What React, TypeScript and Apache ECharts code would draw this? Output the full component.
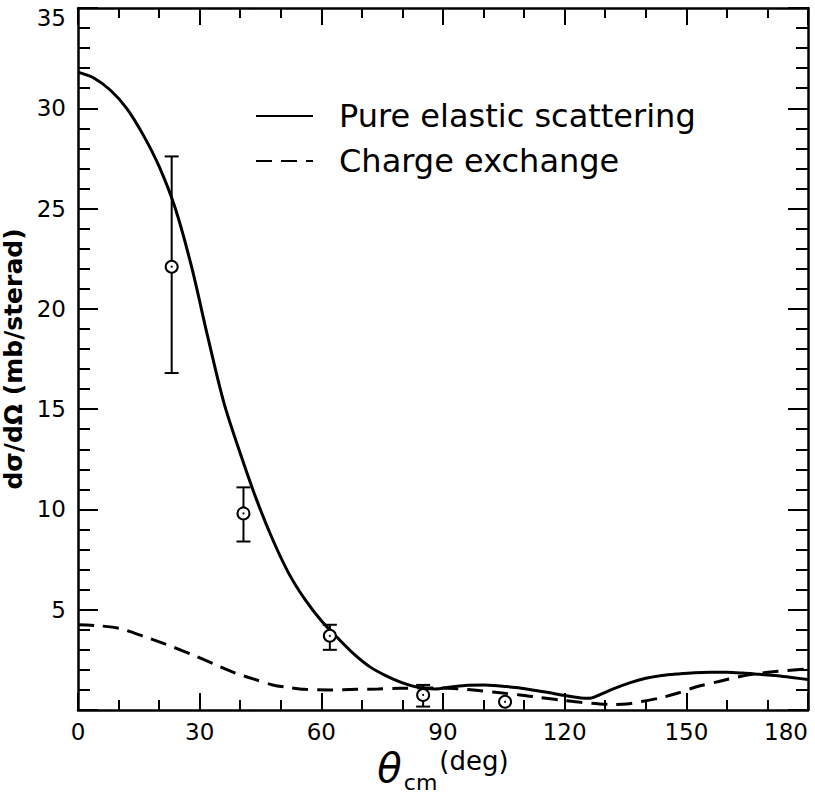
import React, { useEffect, useRef } from "react";
import * as echarts from "echarts";

// Pure elastic scattering (solid curve)
const elasticAngles = [0, 4, 8, 12, 16, 20, 24, 28, 32, 36, 40, 44, 48, 52, 56, 60, 64, 68, 72, 76, 80, 84, 88, 92, 96, 100, 104, 108, 112, 116, 120, 124, 126, 128, 132, 136, 140, 144, 148, 152, 156, 160, 164, 168, 172, 176, 180];
const elasticValues = [31.8, 31.5, 30.9, 30.0, 28.7, 27.1, 25.0, 22.1, 18.6, 15.3, 12.8, 10.5, 8.5, 6.8, 5.5, 4.45, 3.6, 2.8, 2.15, 1.7, 1.35, 1.12, 1.05, 1.15, 1.24, 1.25, 1.2, 1.12, 1.0, 0.87, 0.72, 0.6, 0.58, 0.7, 1.05, 1.35, 1.58, 1.72, 1.8, 1.86, 1.88, 1.88, 1.84, 1.78, 1.72, 1.62, 1.52];

// Charge exchange (dashed curve)
const exchangeAngles = [0, 5, 10, 16.5, 22, 28.4, 34, 39, 44, 48, 52, 56, 62, 68.7, 74, 79.4, 85, 90, 94, 97.5, 103, 109, 114, 119, 124, 128.7, 132, 135.3, 139, 143.5, 148, 152.5, 158, 163, 167, 171.4, 175, 180];
const exchangeValues = [4.25, 4.2, 4.08, 3.65, 3.25, 2.74, 2.25, 1.83, 1.5, 1.25, 1.12, 1.03, 1.0, 1.03, 1.05, 1.08, 1.1, 1.1, 1.05, 1.0, 0.88, 0.75, 0.62, 0.5, 0.38, 0.3, 0.28, 0.3, 0.42, 0.6, 0.85, 1.16, 1.42, 1.66, 1.8, 1.91, 1.97, 2.05];

// Measured points with error bars
const pointAngles = [23.1, 40.8, 62.1, 85.1, 105.3];
const pointValues = [22.1, 9.8, 3.7, 0.75, 0.41];
const errLow = [16.8, 8.4, 3.0, 0.17, 0.41];
const errHigh = [27.6, 11.1, 4.25, 1.25, 0.41];

const xTicks = [0, 30, 60, 90, 120, 150, 180];
const yTicks = [0, 5, 10, 15, 20, 25, 30, 35];

const FONT = "DejaVu Sans";

export default function App() {
  const ref = useRef<HTMLDivElement>(null);
  useEffect(() => {
    if (!ref.current) return;
    const chart = echarts.init(ref.current, null, { renderer: "svg" });
    const black = "#000";
    const yMax = yTicks[yTicks.length - 1];
    const baseX = {
      type: "value",
      min: xTicks[0],
      max: xTicks[xTicks.length - 1],
      interval: 30,
      splitLine: { show: false },
      axisLine: { show: true, onZero: false, lineStyle: { color: black, width: 2.5 } },
      axisTick: { show: true, inside: true, length: 17, lineStyle: { color: black, width: 2 } },
      minorTick: { show: true, splitNumber: 3, length: 10, lineStyle: { color: black, width: 2 } },
    };
    const baseY = {
      type: "value",
      min: yTicks[0],
      max: yMax,
      interval: 5,
      splitLine: { show: false },
      axisLine: { show: true, onZero: false, lineStyle: { color: black, width: 2.5 } },
      axisTick: { show: true, inside: true, length: 20, lineStyle: { color: black, width: 2 } },
      minorTick: { show: true, splitNumber: 5, length: 12, lineStyle: { color: black, width: 2 } },
    };
    const option: any = {
      animation: false,
      backgroundColor: "#fff",
      grid: { left: 78, right: 7, top: 8, bottom: 86, containLabel: false, outerBoundsMode: "none" },
      legend: {
        data: ["Pure elastic scattering", "Charge exchange"],
        orient: "vertical",
        left: 255,
        top: 100,
        padding: 0,
        itemWidth: 57,
        itemHeight: 14,
        itemGap: 13,
        selectedMode: false,
        itemStyle: { opacity: 0, borderWidth: 0 },
        textStyle: { fontSize: 32, fontFamily: FONT, color: black, padding: [0, 0, 0, 21] },
      },
      xAxis: [
        {
          ...baseX,
          position: "bottom",
          name: "{t|θ}{s|cm}{d|(deg)}",
          nameLocation: "middle",
          nameGap: 26,
          nameTextStyle: {
            color: black,
            rich: {
              t: { fontSize: 40, fontStyle: "italic", fontFamily: FONT, color: black, lineHeight: 46, verticalAlign: "top" },
              s: { fontSize: 22, fontFamily: FONT, color: black, lineHeight: 14, verticalAlign: "bottom", padding: [0, 2, 0, 2] },
              d: { fontSize: 26, fontFamily: FONT, color: black, lineHeight: 46, verticalAlign: "top" },
            },
          },
          axisLabel: { fontSize: 23, fontFamily: FONT, color: black, margin: 10, alignMaxLabel: "right" },
        },
        {
          ...baseX,
          position: "top",
          axisLabel: { show: false },
        },
      ],
      yAxis: [
        {
          ...baseY,
          position: "left",
          name: "dσ/dΩ (mb/sterad)",
          nameLocation: "middle",
          nameGap: 37,
          nameTextStyle: { fontSize: 25, fontWeight: "bold", fontFamily: FONT, color: black },
          axisLabel: {
            fontSize: 23,
            fontFamily: FONT,
            color: black,
            margin: 12,
            showMinLabel: false,
            formatter: (v: number) => (v === yMax ? `{hi|${v}}` : `${v}`),
            rich: { hi: { fontSize: 23, fontFamily: FONT, color: black, padding: [20, 0, 0, 0] } },
          },
        },
        {
          ...baseY,
          position: "right",
          axisLabel: { show: false },
        },
      ],
      series: [
        {
          name: "Pure elastic scattering",
          type: "line",
          xAxisIndex: 0,
          yAxisIndex: 0,
          data: elasticAngles.map((a, i) => [a, elasticValues[i]]),
          smooth: 0.3,
          symbol: "none",
          lineStyle: { color: black, width: 3, type: "solid" },
          itemStyle: { color: black },
          z: 3,
        },
        {
          name: "Charge exchange",
          type: "line",
          xAxisIndex: 0,
          yAxisIndex: 0,
          data: exchangeAngles.map((a, i) => [a, exchangeValues[i]]),
          smooth: 0.3,
          symbol: "none",
          lineStyle: { color: black, width: 3, type: [16, 9] },
          itemStyle: { color: black },
          z: 2,
        },
        {
          name: "Data",
          type: "custom",
          xAxisIndex: 0,
          yAxisIndex: 0,
          clip: false,
          z: 5,
          encode: { x: 0, y: 1 },
          data: pointAngles.map((a, i) => [a, pointValues[i], errLow[i], errHigh[i]]),
          renderItem: (params: any, api: any) => {
            const x = api.value(0);
            const y = api.value(1);
            const lo = api.value(2);
            const hi = api.value(3);
            const p = api.coord([x, y]);
            const pl = api.coord([x, lo]);
            const ph = api.coord([x, hi]);
            const style = { stroke: black, lineWidth: 2 };
            const children: any[] = [];
            if (hi > lo) {
              children.push({ type: "line", shape: { x1: pl[0], y1: pl[1], x2: ph[0], y2: ph[1] }, style });
              children.push({ type: "line", shape: { x1: pl[0] - 7, y1: pl[1], x2: pl[0] + 7, y2: pl[1] }, style });
              children.push({ type: "line", shape: { x1: ph[0] - 7, y1: ph[1], x2: ph[0] + 7, y2: ph[1] }, style });
            }
            children.push({ type: "circle", shape: { cx: p[0], cy: p[1], r: 6 }, style: { fill: "#fff", stroke: black, lineWidth: 2 } });
            children.push({ type: "circle", shape: { cx: p[0], cy: p[1], r: 1 }, style: { fill: black } });
            return { type: "group", children };
          },
        },
      ],
    };
    chart.setOption(option);
    return () => chart.dispose();
  }, []);
  return <div ref={ref} style={{ position: "fixed", left: 0, top: 0, width: 815, height: 796 }} />;
}
